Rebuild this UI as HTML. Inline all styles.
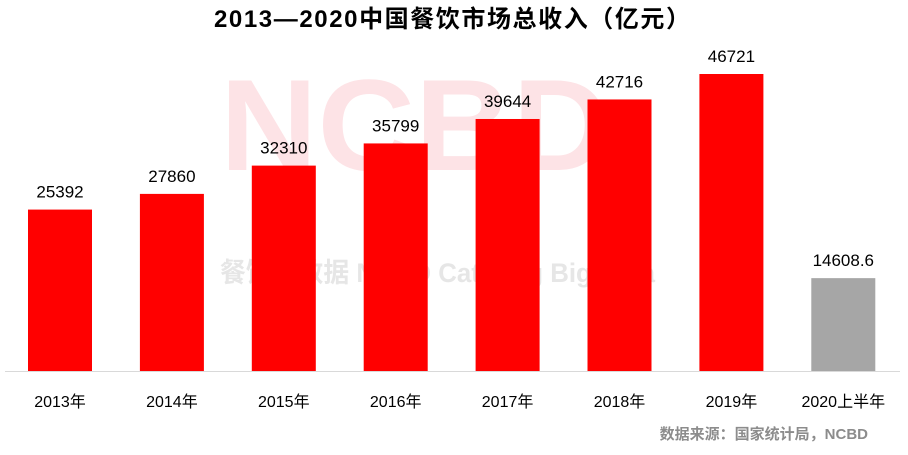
<!DOCTYPE html>
<html><head><meta charset="utf-8"><style>
body{margin:0;background:#fff;}
svg text{font-family:"Liberation Sans","Noto Sans CJK SC",sans-serif;}
</style></head><body>
<svg id="chart" width="908" height="450" xmlns="http://www.w3.org/2000/svg">
<text x="452" y="27" text-anchor="middle" font-size="24" font-weight="bold" fill="#000" textLength="476">2013—2020中国餐饮市场总收入（亿元）</text>
<text x="220" y="170" font-size="130" font-weight="bold" fill="#fde3e6" textLength="390" lengthAdjust="spacingAndGlyphs">NCBD</text>
<text x="220" y="282" font-size="27" font-weight="bold" fill="#e6e6e6" textLength="435" lengthAdjust="spacingAndGlyphs">餐饮大数据  NCBD Catering Big Data</text>
<g id="bars"></g>
<line x1="5" y1="371.5" x2="900" y2="371.5" stroke="#d9d9d9" stroke-width="1"/>
<text x="868" y="439" text-anchor="end" font-size="15" font-weight="bold" fill="#8c8c8c">数据来源：国家统计局，NCBD</text>
</svg>
<script>
const categories=["2013年","2014年","2015年","2016年","2017年","2018年","2019年","2020上半年"];
const values=[25392,27860,32310,35799,39644,42716,46721,14608.6];
const valueLabels=["25392","27860","32310","35799","39644","42716","46721","14608.6"];
const baseY=371, scale=297/46721;
function yPos(v){return baseY-v*scale;}
function xCenter(i){return 60+i*111.9;}
const g=document.getElementById('bars');
const ns="http://www.w3.org/2000/svg";
categories.forEach((c,i)=>{
  const v=values[i], y=yPos(v);
  const r=document.createElementNS(ns,'rect');
  r.setAttribute('x',xCenter(i)-32);r.setAttribute('y',y);
  r.setAttribute('width',64);r.setAttribute('height',baseY-y);
  r.setAttribute('fill',i===7?'#a6a6a6':'#ff0000');
  
  
  g.appendChild(r);
  const t=document.createElementNS(ns,'text');
  t.setAttribute('x',xCenter(i));t.setAttribute('y',y-12);
  t.setAttribute('text-anchor','middle');t.setAttribute('font-size','17');
  t.textContent=valueLabels[i];
  
  
  g.appendChild(t);
  const l=document.createElementNS(ns,'text');
  l.setAttribute('x',xCenter(i));l.setAttribute('y',407);
  l.setAttribute('text-anchor','middle');l.setAttribute('font-size','16');
  l.textContent=c;
  
  
  g.appendChild(l);
});
</script>
</body></html>
